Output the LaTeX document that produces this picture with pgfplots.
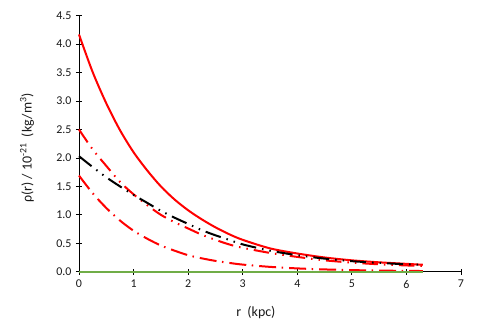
\documentclass[border=0pt]{standalone}
\usepackage{fontspec}
\setmainfont{Carlito}
\usepackage{pgfplots}
\pgfplotsset{compat=1.18}
\definecolor{ExRed}{HTML}{FF0000}
\definecolor{ExGreen}{HTML}{70AD47}
\definecolor{TickGray}{HTML}{1A1A1A}

\begin{document}
\begin{tikzpicture}
\begin{axis}[
    scale only axis,
    width=382bp, height=256bp,
    xmin=0, xmax=7, ymin=0, ymax=4.5,
    xtick={0,1,...,7},
    ytick={0,0.5,...,4.5},
    axis x line=bottom, axis y line=left,
    axis line style={-, black, line width=0.8bp},
    tick align=center,
    major tick length=6bp,
    tick style={black, line width=0.8bp},
    clip=false,
    /pgf/number format/assume math mode=true,
    yticklabel style={xshift=-1bp, /pgf/number format/fixed,
        /pgf/number format/fixed zerofill, /pgf/number format/precision=1},
    xticklabel style={yshift=-2bp},
    ticklabel style={font=\fontsize{12}{14}\selectfont, text=TickGray},
    xlabel={r\ \ (kpc)},
    ylabel={ρ(r) / 10\textsuperscript{-21}\ \ (kg/m\textsuperscript{3})},
    label style={font=\fontsize{14}{16}\selectfont, text=TickGray},
    xlabel style={at={(axis description cs:0.463,-0.160)}, anchor=center},
    ylabel style={at={(axis description cs:-0.136,0.483)}, anchor=center},
]
% total density
\addplot[ExRed, line width=2bp, smooth] coordinates {
    (0,4.17) (0.25,3.51) (0.5,2.96) (0.75,2.49) (1,2.10) (1.25,1.78)
    (1.5,1.50) (1.75,1.27) (2,1.08) (2.25,0.92) (2.5,0.78) (2.75,0.66)
    (3,0.56) (3.5,0.41) (4,0.32) (4.5,0.25) (5,0.20) (5.5,0.165)
    (6,0.138) (6.3,0.122)
};
% upper dash-dot-dot
\addplot[ExRed, line width=2bp, smooth,
    dash pattern=on 15.5bp off 6bp on 1.5bp off 6bp on 1.5bp off 6bp] coordinates {
    (0,2.50) (0.25,2.15) (0.5,1.86) (0.75,1.58) (1,1.36) (1.25,1.17)
    (1.5,1.00) (1.75,0.87) (2,0.76) (2.25,0.65) (2.5,0.56) (2.75,0.48)
    (3,0.42) (3.5,0.33) (4,0.26) (4.5,0.20) (5,0.16) (5.5,0.13)
    (6,0.11) (6.3,0.10)
};
% black dash-dot-dot
\addplot[black, line width=2bp, smooth,
    dash pattern=on 16bp off 6bp on 1.5bp off 6bp on 1.5bp off 6bp] coordinates {
    (0,2.03) (0.25,1.84) (0.5,1.66) (0.75,1.50) (1,1.35) (1.25,1.21)
    (1.5,1.07) (1.75,0.95) (2,0.84) (2.25,0.73) (2.5,0.64) (2.75,0.56)
    (3,0.48) (3.5,0.37) (4,0.29) (4.5,0.23) (5,0.185) (5.5,0.155)
    (6,0.13) (6.3,0.12)
};
% lower dash-dot
\addplot[ExRed, line width=2bp, smooth,
    dash pattern=on 17bp off 5.5bp on 1.5bp off 6bp] coordinates {
    (0,1.69) (0.25,1.38) (0.5,1.12) (0.75,0.90) (1,0.72) (1.25,0.58)
    (1.5,0.46) (1.75,0.37) (2,0.29) (2.25,0.235) (2.5,0.19) (2.75,0.155)
    (3,0.125) (3.5,0.085) (4,0.058) (4.5,0.04) (5,0.028) (5.5,0.02)
    (6,0.014) (6.3,0.012)
};
% zero line
\addplot[ExGreen, line width=2bp] coordinates {
    (0,0) (6.3,0)
};
\path (rel axis cs:0,0) ++(-79bp,-53.3bp) rectangle ++(480bp,325bp);
\end{axis}
\end{tikzpicture}
\end{document}
